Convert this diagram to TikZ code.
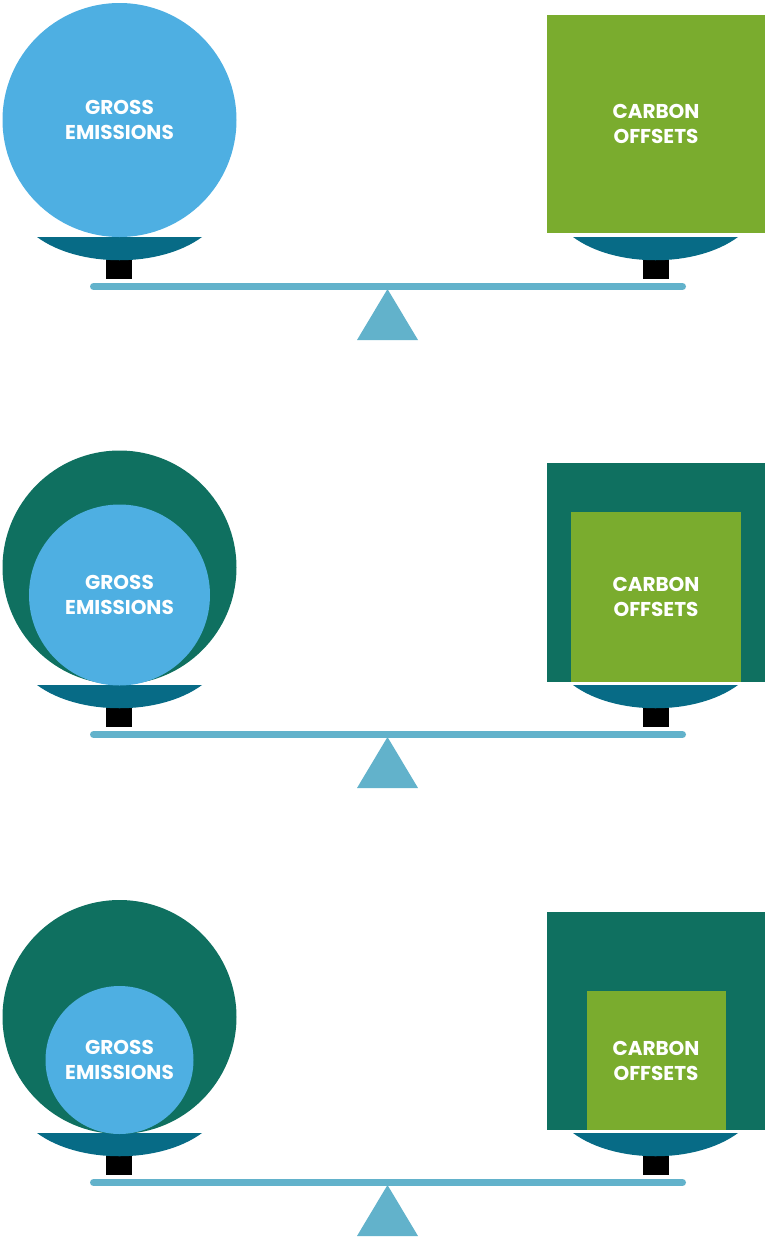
\documentclass[tikz,border=0pt]{standalone}
\usepackage{fontspec}
\setmainfont{Poppins}
\usepackage{tikz}
\usepackage{xcolor}
\definecolor{skyblue}{HTML}{4EAFE2}
\definecolor{leafgreen}{HTML}{7AAC2E}
\definecolor{deepgreen}{HTML}{0F7060}
\definecolor{panblue}{HTML}{076B86}
\definecolor{beamblue}{HTML}{62B2CB}

\begin{document}
\begin{tikzpicture}[x=1pt, y=-1pt,
    blobtext/.style={text=white, inner sep=0pt, align=center, font=\bfseries\fontsize{20}{25}\selectfont},
    emission/.style={circle, fill=skyblue, blobtext},
    offset/.style={rectangle, fill=leafgreen, blobtext},
    reserve/.style={fill=deepgreen}]
    \useasboundingbox (0,0) rectangle (768,1240);

    % Balance (same in every panel)
    \foreach \dy in {0,448,896} {
        \begin{scope}[shift={(0,\dy)}]
            \fill[beamblue] (357,340) -- (387.5,289) -- (418,340) -- cycle;
            \draw[beamblue, line width=7pt, line cap=round] (93.5,286.5) -- (682.5,286.5);
            \fill[black] (106,250) rectangle (132,279);
            \fill[black] (643,250) rectangle (669,279);
            \fill[panblue] (37,237) -- (202,237) .. controls (160,268) and (79,268) .. (37,237) -- cycle;
            \fill[panblue] (573,237) -- (738,237) .. controls (696,268) and (615,268) .. (573,237) -- cycle;
        \end{scope}
    }

    % Panel 1
    \node[emission, minimum size=234pt] (gross1) at (119.5,120) {GROSS\\EMISSIONS};
    \node[offset, minimum width=218pt, minimum height=218pt] (offsets1) at (656,124) {CARBON\\OFFSETS};

    % Panel 2
    \fill[reserve] (119.5,567.5) circle[radius=117pt];
    \fill[reserve] (547,463) rectangle (765,682);
    \node[emission, minimum size=181pt] (gross2) at (119.5,595) {GROSS\\EMISSIONS};
    \node[offset, minimum width=170pt, minimum height=170pt] (offsets2) at (656,597) {CARBON\\OFFSETS};

    % Panel 3
    \fill[reserve] (119.5,1017) circle[radius=117pt];
    \fill[reserve] (547,912) rectangle (765,1130);
    \node[emission, minimum size=148pt] (gross3) at (119.5,1060) {GROSS\\EMISSIONS};
    \node[offset, minimum width=139pt, minimum height=139pt] (offsets3) at (656,1060.5) {CARBON\\OFFSETS};
\end{tikzpicture}
\end{document}
